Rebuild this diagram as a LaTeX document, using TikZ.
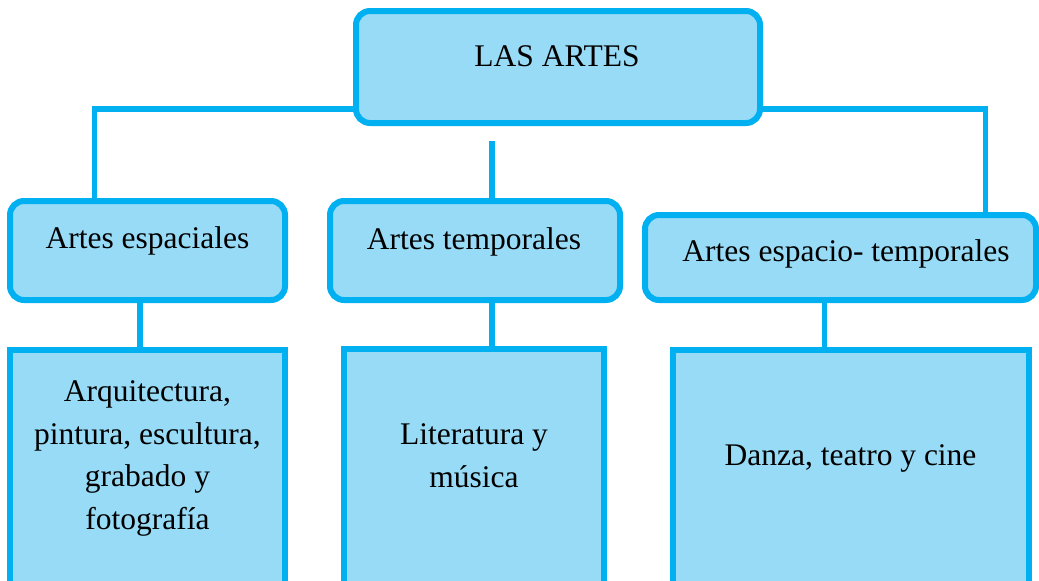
\documentclass[tikz,border=0pt]{standalone}
\usepackage{fontspec}
\setmainfont{Liberation Serif}
\usetikzlibrary{backgrounds}
\definecolor{bord}{RGB}{0,176,240}
\definecolor{fillb}{RGB}{151,219,247}
\begin{document}
\begin{tikzpicture}[x=1pt,y=-1pt,
  rbox/.style={draw=bord,fill=fillb,line width=6pt,rounded corners=14pt,inner sep=0pt},
  sbox/.style={draw=bord,fill=fillb,line width=6pt,inner sep=0pt},
  conn/.style={draw=bord,line width=5.5pt},
  lbl/.style={font=\fontsize{31.5}{42.5}\selectfont,inner sep=0pt,anchor=base,align=center}]
\useasboundingbox (0,0) rectangle (1039,581);
\clip (0,0) rectangle (1039,581);
% boxes
\path (558,67) node[rbox,minimum width=404pt,minimum height=112pt] (top) {};
\path (147.5,250.5) node[rbox,minimum width=275pt,minimum height=99pt] (a1) {};
\path (475,250.5) node[rbox,minimum width=290pt,minimum height=99pt] (a2) {};
\path (840.5,257.5) node[rbox,minimum width=391pt,minimum height=85pt] (a3) {};
\path (147.5,485) node[sbox,minimum width=275pt,minimum height=270pt] (b1) {};
\path (474,484.5) node[sbox,minimum width=260pt,minimum height=271pt] (b2) {};
\path (851,485) node[sbox,minimum width=356pt,minimum height=270pt] (b3) {};
% coordinates for connectors
\coordinate (hl) at (94.5,109);
\coordinate (hr) at (985.5,109);
\coordinate (mt) at (492,141);
\coordinate (c1) at (140,0);
\coordinate (c3) at (824.5,0);
% connectors
\begin{scope}[on background layer]
\draw[conn] (a1.north -| hl) |- (hr) -- (a3.north -| hr);
\draw[conn] (mt) -- (a2.north -| mt);
\draw[conn] (a1.south -| c1) -- (b1.north -| c1);
\draw[conn] (a2.south -| mt) -- (b2.north -| mt);
\draw[conn] (a3.south -| c3) -- (b3.north -| c3);
\end{scope}
% labels
\node[lbl] (t0) at (557,66) {LAS ARTES};
\node[lbl] (t1) at (147.5,248) {Artes espaciales};
\node[lbl] (t2) at (474,249) {Artes temporales};
\node[lbl] (t3) at (846,261) {Artes espacio- temporales};
\node[lbl] (t4) at (147.5,529) {Arquitectura,\\pintura, escultura,\\grabado y\\fotografía};
\node[lbl] (t5) at (474,487) {Literatura y\\música};
\node[lbl] (t6) at (850.5,465) {Danza, teatro y cine};
\end{tikzpicture}
\end{document}
